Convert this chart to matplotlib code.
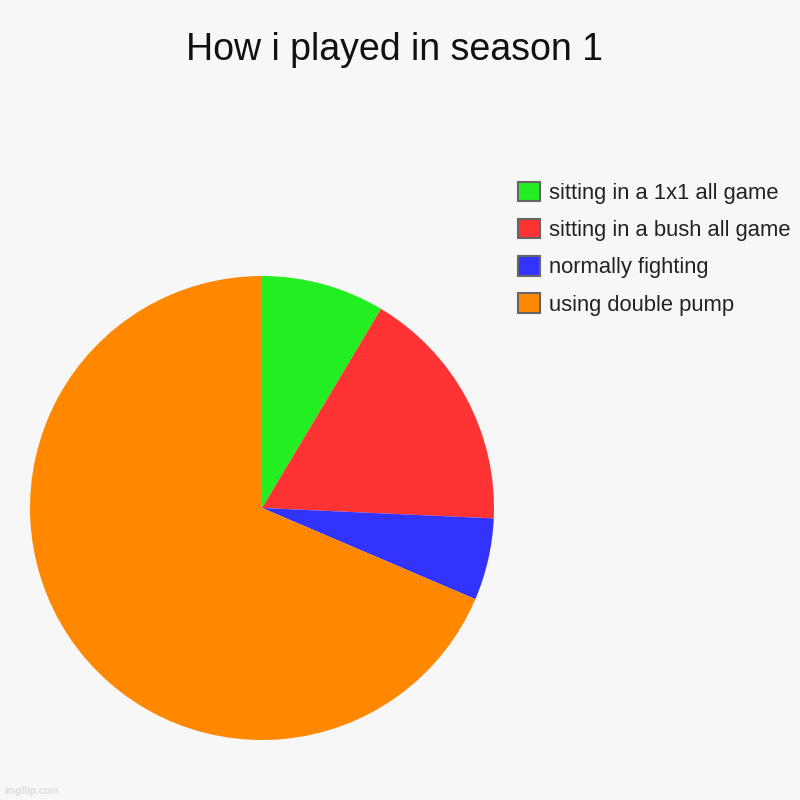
import matplotlib.pyplot as plt
from matplotlib.patches import Patch

plt.rcParams['font.family'] = ['Liberation Sans', 'DejaVu Sans']

labels = ["sitting in a 1x1 all game", "sitting in a bush all game",
          "normally fighting", "using double pump"]
values = [3, 6, 2, 24]
colors = ["#22ee22", "#ff3333", "#3333ff", "#ff8800"]
bg = "#f7f7f7"

fig = plt.figure(figsize=(8, 8), dpi=100, facecolor=bg)
ax = fig.add_axes([0.0375, 0.075, 0.58, 0.58])
ax.set_facecolor(bg)
ax.pie(values, colors=colors, startangle=90, counterclock=False, radius=1,
       wedgeprops=dict(linewidth=0))
ax.set_xlim(-1, 1)
ax.set_ylim(-1, 1)
ax.set_aspect('equal')

fig.text(0.493, 0.937, "How i played in season 1", ha='center', va='center',
         fontsize=27, color='#111111')

handles = [Patch(facecolor=c, edgecolor='#666666', linewidth=1.5) for c in colors]
fig.legend(handles, labels, loc='upper left', bbox_to_anchor=(0.6475, 0.773),
           frameon=False, fontsize=15.8, handlelength=1.0, handleheight=1.0,
           handletextpad=0.4, labelspacing=0.68, borderpad=0, borderaxespad=0,
           labelcolor='#222222')

fig.text(0.005, 0.005, "imgflip.com", fontsize=7, color='#dddddd',
         fontweight='bold', ha='left', va='bottom')

fig.savefig("out.png", facecolor=bg)
